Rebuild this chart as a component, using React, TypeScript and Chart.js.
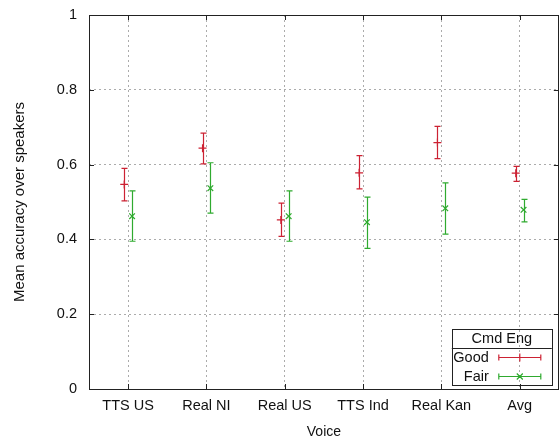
import React, { useEffect, useRef } from "react";
import { Chart, registerables } from "chart.js";

Chart.register(...registerables);

const categories = ["TTS US", "Real NI", "Real US", "TTS Ind", "Real Kan", "Avg"];
const goodMean = [0.547, 0.644, 0.452, 0.578, 0.659, 0.577];
const goodLow = [0.503, 0.602, 0.408, 0.535, 0.616, 0.555];
const goodHigh = [0.590, 0.684, 0.497, 0.624, 0.702, 0.595];
const fairMean = [0.462, 0.537, 0.462, 0.446, 0.483, 0.479];
const fairLow = [0.395, 0.470, 0.395, 0.376, 0.414, 0.447];
const fairHigh = [0.530, 0.605, 0.530, 0.513, 0.551, 0.507];
const yTicks = [0, 0.2, 0.4, 0.6, 0.8, 1];

const RED = "#cc2233";
const GREEN = "#2faa2f";
const FONT = "'Liberation Sans', Arial, sans-serif";

const errorBarPlugin = {
  id: "errorBars",
  afterDatasetsDraw(chart: any) {
    const { ctx, scales } = chart;
    const xs = scales.x;
    const ys = scales.y;
    chart.data.datasets.forEach((ds: any) => {
      ctx.save();
      ctx.strokeStyle = ds.borderColor;
      ctx.lineWidth = 1.2;
      ds.data.forEach((p: any) => {
        const px = Math.round(xs.getPixelForValue(p.x)) + 0.5;
        const t = ys.getPixelForValue(p.yMax);
        const b = ys.getPixelForValue(p.yMin);
        ctx.beginPath();
        ctx.moveTo(px, t);
        ctx.lineTo(px, b);
        ctx.moveTo(px - 3, t);
        ctx.lineTo(px + 3, t);
        ctx.moveTo(px - 3, b);
        ctx.lineTo(px + 3, b);
        ctx.stroke();
      });
      ctx.restore();
    });
  },
};

const framePlugin = {
  id: "frame",
  afterDraw(chart: any) {
    const { ctx, chartArea: a, scales } = chart;
    ctx.save();
    ctx.strokeStyle = "#222";
    ctx.lineWidth = 1;
    ctx.strokeRect(Math.round(a.left) + 0.5, Math.round(a.top) + 0.5, Math.round(a.right - a.left) - 1, Math.round(a.bottom - a.top));
    ctx.beginPath();
    const tl = 5;
    scales.y.ticks.forEach((t: any) => {
      const py = Math.round(scales.y.getPixelForValue(t.value)) + 0.5;
      ctx.moveTo(a.left, py);
      ctx.lineTo(a.left + tl, py);
      ctx.moveTo(a.right, py);
      ctx.lineTo(a.right - tl, py);
    });
    scales.x.ticks.forEach((t: any) => {
      const px = Math.round(scales.x.getPixelForValue(t.value)) + 0.5;
      ctx.moveTo(px, a.bottom);
      ctx.lineTo(px, a.bottom - tl);
      ctx.moveTo(px, a.top);
      ctx.lineTo(px, a.top + tl);
    });
    ctx.stroke();

    // legend
    const bx1 = a.right - 107;
    const bx2 = a.right - 7;
    const by1 = a.bottom - 60;
    const by2 = a.bottom - 4;
    const sep = by1 + 19;
    ctx.strokeStyle = "#222";
    ctx.strokeRect(Math.round(bx1) + 0.5, Math.round(by1) + 0.5, bx2 - bx1, by2 - by1);
    ctx.beginPath();
    ctx.moveTo(bx1, Math.round(sep) + 0.5);
    ctx.lineTo(bx2, Math.round(sep) + 0.5);
    ctx.stroke();
    ctx.fillStyle = "#111";
    ctx.font = `14.5px ${FONT}`;
    ctx.textBaseline = "middle";
    ctx.textAlign = "center";
    ctx.fillText("Cmd Eng", (bx1 + bx2) / 2, by1 + 10);
    chart.data.datasets.forEach((ds: any, i: number) => {
      const yy = Math.round(sep + 9 + i * 19) + 0.5;
      ctx.fillStyle = "#111";
      ctx.textAlign = "right";
      ctx.fillText(ds.label, bx1 + 37, yy);
      const sx1 = bx1 + 47;
      const sx2 = bx1 + 89;
      const mx = (sx1 + sx2) / 2;
      ctx.strokeStyle = ds.borderColor;
      ctx.lineWidth = 1.2;
      ctx.beginPath();
      ctx.moveTo(sx1, yy);
      ctx.lineTo(sx2, yy);
      ctx.moveTo(sx1, yy - 3);
      ctx.lineTo(sx1, yy + 3);
      ctx.moveTo(sx2, yy - 3);
      ctx.lineTo(sx2, yy + 3);
      if (ds.pointStyle === "cross") {
        ctx.moveTo(mx, yy - 4);
        ctx.lineTo(mx, yy + 4);
      } else {
        ctx.moveTo(mx - 3, yy - 3);
        ctx.lineTo(mx + 3, yy + 3);
        ctx.moveTo(mx - 3, yy + 3);
        ctx.lineTo(mx + 3, yy - 3);
      }
      ctx.stroke();
    });
    ctx.restore();
  },
};

export default function App() {
  const ref = useRef<HTMLCanvasElement>(null);
  useEffect(() => {
    document.body.style.margin = "0";
    const good = categories.map((_, i) => ({ x: i - 0.05, y: goodMean[i], yMin: goodLow[i], yMax: goodHigh[i] }));
    const fair = categories.map((_, i) => ({ x: i + 0.05, y: fairMean[i], yMin: fairLow[i], yMax: fairHigh[i] }));
    const chart = new Chart(ref.current as HTMLCanvasElement, {
      type: "scatter",
      data: {
        datasets: [
          { label: "Good", data: good, borderColor: RED, backgroundColor: RED, pointStyle: "cross", pointRadius: 4, borderWidth: 1.2 },
          { label: "Fair", data: fair, borderColor: GREEN, backgroundColor: GREEN, pointStyle: "crossRot", pointRadius: 4, borderWidth: 1.2 },
        ],
      } as any,
      options: {
        animation: false,
        responsive: false,
        layout: { padding: { left: 0, top: 15, right: 0, bottom: 0 } },
        plugins: { legend: { display: false }, tooltip: { enabled: false } },
        scales: {
          x: {
            type: "linear",
            min: -0.5,
            max: 5.5,
            afterBuildTicks: (s: any) => {
              s.ticks = categories.map((_, i) => ({ value: i }));
            },
            afterFit: (s: any) => {
              s.height = 54;
              s.paddingLeft = 0;
              s.paddingRight = 0;
              s.paddingTop = 0;
              s.paddingBottom = 0;
            },
            ticks: {
              callback: (v: any) => categories[v] ?? "",
              padding: 8,
              color: "#111",
              font: { family: FONT, size: 14.5 },
              maxRotation: 0,
              autoSkip: false,
            },
            grid: { color: "#ababab", drawTicks: false, lineWidth: 1 },
            border: { display: false, dash: [2, 3] },
            title: { display: true, text: "Voice", color: "#111", font: { family: FONT, size: 14 }, padding: { top: 0, bottom: 2 } },
          },
          y: {
            type: "linear",
            min: 0,
            max: 1,
            afterBuildTicks: (s: any) => {
              s.ticks = yTicks.map((v) => ({ value: v }));
            },
            afterFit: (s: any) => {
              s.width = 89;
              s.paddingLeft = 0;
              s.paddingRight = 0;
              s.paddingTop = 0;
              s.paddingBottom = 0;
            },
            ticks: {
              callback: (v: any) => String(Math.round(v * 10) / 10),
              padding: 12,
              color: "#111",
              font: { family: FONT, size: 14.5 },
            },
            grid: { color: "#ababab", drawTicks: false, lineWidth: 1 },
            border: { display: false, dash: [2, 3] },
            title: { display: true, text: "Mean accuracy over speakers", color: "#111", font: { family: FONT, size: 15 }, padding: { top: 11, bottom: 0 } },
          },
        },
      } as any,
      plugins: [errorBarPlugin, framePlugin],
    });
    return () => chart.destroy();
  }, []);
  return (
    <div style={{ width: 560, height: 443, overflow: "hidden" }}>
      <canvas ref={ref} width={564} height={443} style={{ display: "block" }} />
    </div>
  );
}
